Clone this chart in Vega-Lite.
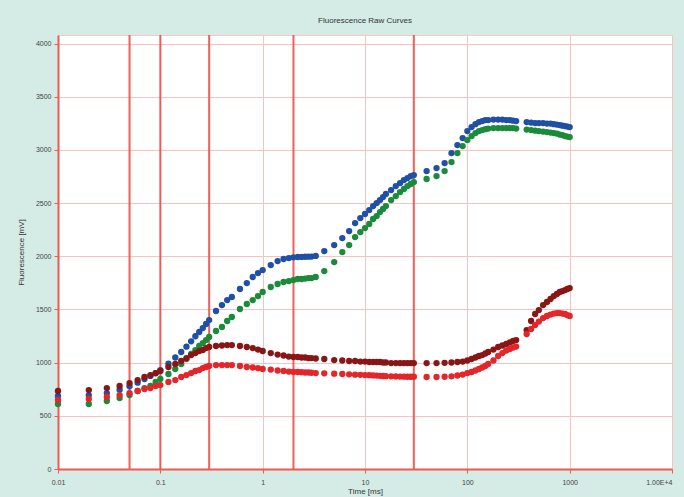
{
  "$schema": "https://vega.github.io/schema/vega-lite/v6.json",
  "width": 614,
  "height": 434,
  "autosize": "none",
  "padding": {"left": 58, "top": 35, "right": 12, "bottom": 28},
  "background": "#d5ebe6",
  "title": {"text": "Fluorescence Raw Curves", "fontSize": 8, "fontWeight": "normal", "color": "#333333", "offset": 9, "anchor": "middle", "font": "Liberation Sans"},
  "datasets": {
    "markers": [{"t": 0.05}, {"t": 0.1}, {"t": 0.3}, {"t": 2}, {"t": 30}],
    "curves": [
{"t":0.01,"s":"b","v":686},{"t":0.02,"s":"b","v":695},{"t":0.03,"s":"b","v":714},{"t":0.04,"s":"b","v":745},{"t":0.05,"s":"b","v":778},{"t":0.06,"s":"b","v":812},{"t":0.07,"s":"b","v":846},{"t":0.08,"s":"b","v":875},{"t":0.09,"s":"b","v":900},{"t":0.1,"s":"b","v":930},{"t":0.12,"s":"b","v":990},{"t":0.14,"s":"b","v":1048},{"t":0.16,"s":"b","v":1100},{"t":0.18,"s":"b","v":1150},{"t":0.2,"s":"b","v":1200},{"t":0.22,"s":"b","v":1248},{"t":0.24,"s":"b","v":1288},{"t":0.26,"s":"b","v":1325},{"t":0.28,"s":"b","v":1363},{"t":0.3,"s":"b","v":1400},
{"t":0.35,"s":"b","v":1485},{"t":0.4,"s":"b","v":1541},{"t":0.45,"s":"b","v":1588},{"t":0.5,"s":"b","v":1617},{"t":0.6,"s":"b","v":1692},{"t":0.7,"s":"b","v":1748},{"t":0.8,"s":"b","v":1805},{"t":0.9,"s":"b","v":1842},{"t":1,"s":"b","v":1870},{"t":1.2,"s":"b","v":1917},{"t":1.4,"s":"b","v":1955},{"t":1.6,"s":"b","v":1974},{"t":1.8,"s":"b","v":1983},{"t":2,"s":"b","v":1990},
{"t":2.2,"s":"b","v":1993},{"t":2.4,"s":"b","v":1994},{"t":2.6,"s":"b","v":1995},{"t":2.8,"s":"b","v":1996},{"t":3,"s":"b","v":1997},{"t":3.3,"s":"b","v":2003},{"t":4,"s":"b","v":2049},{"t":5,"s":"b","v":2105},{"t":6,"s":"b","v":2171},{"t":7,"s":"b","v":2237},{"t":8,"s":"b","v":2312},{"t":9,"s":"b","v":2359},{"t":10,"s":"b","v":2397},{"t":11,"s":"b","v":2434},{"t":12,"s":"b","v":2472},{"t":13,"s":"b","v":2500},{"t":14,"s":"b","v":2528},{"t":15,"s":"b","v":2556},{"t":16,"s":"b","v":2585},{"t":18,"s":"b","v":2622},{"t":20,"s":"b","v":2660},{"t":22,"s":"b","v":2688},{"t":24,"s":"b","v":2716},{"t":26,"s":"b","v":2735},{"t":28,"s":"b","v":2754},{"t":30,"s":"b","v":2763},
{"t":40,"s":"b","v":2801},{"t":50,"s":"b","v":2829},{"t":60,"s":"b","v":2876},{"t":70,"s":"b","v":2970},{"t":80,"s":"b","v":3045},{"t":90,"s":"b","v":3111},{"t":100,"s":"b","v":3177},{"t":110,"s":"b","v":3214},{"t":120,"s":"b","v":3242},{"t":130,"s":"b","v":3261},{"t":140,"s":"b","v":3271},{"t":150,"s":"b","v":3280},{"t":160,"s":"b","v":3280},{"t":180,"s":"b","v":3285},{"t":200,"s":"b","v":3285},{"t":220,"s":"b","v":3285},{"t":240,"s":"b","v":3280},{"t":260,"s":"b","v":3280},{"t":280,"s":"b","v":3275},{"t":300,"s":"b","v":3271},
{"t":380,"s":"b","v":3261},{"t":420,"s":"b","v":3257},{"t":460,"s":"b","v":3252},{"t":500,"s":"b","v":3252},{"t":550,"s":"b","v":3252},{"t":600,"s":"b","v":3247},{"t":650,"s":"b","v":3247},{"t":700,"s":"b","v":3242},{"t":750,"s":"b","v":3238},{"t":800,"s":"b","v":3233},{"t":850,"s":"b","v":3228},{"t":900,"s":"b","v":3224},{"t":950,"s":"b","v":3219},{"t":1000,"s":"b","v":3214},

{"t":0.01,"s":"g","v":611},{"t":0.02,"s":"g","v":611},{"t":0.03,"s":"g","v":639},{"t":0.04,"s":"g","v":667},{"t":0.05,"s":"g","v":695},{"t":0.06,"s":"g","v":733},{"t":0.07,"s":"g","v":761},{"t":0.08,"s":"g","v":780},{"t":0.09,"s":"g","v":818},{"t":0.1,"s":"g","v":846},{"t":0.12,"s":"g","v":893},{"t":0.14,"s":"g","v":940},{"t":0.16,"s":"g","v":987},{"t":0.18,"s":"g","v":1034},{"t":0.2,"s":"g","v":1081},{"t":0.22,"s":"g","v":1118},{"t":0.24,"s":"g","v":1156},{"t":0.26,"s":"g","v":1184},{"t":0.28,"s":"g","v":1212},{"t":0.3,"s":"g","v":1241},
{"t":0.35,"s":"g","v":1297},{"t":0.4,"s":"g","v":1335},{"t":0.45,"s":"g","v":1391},{"t":0.5,"s":"g","v":1429},{"t":0.6,"s":"g","v":1504},{"t":0.7,"s":"g","v":1551},{"t":0.8,"s":"g","v":1588},{"t":0.9,"s":"g","v":1626},{"t":1,"s":"g","v":1664},{"t":1.2,"s":"g","v":1711},{"t":1.4,"s":"g","v":1739},{"t":1.6,"s":"g","v":1758},{"t":1.8,"s":"g","v":1767},{"t":2,"s":"g","v":1776},
{"t":2.2,"s":"g","v":1786},{"t":2.4,"s":"g","v":1786},{"t":2.6,"s":"g","v":1790},{"t":2.8,"s":"g","v":1795},{"t":3,"s":"g","v":1795},{"t":3.3,"s":"g","v":1805},{"t":4,"s":"g","v":1861},{"t":5,"s":"g","v":1945},{"t":6,"s":"g","v":2039},{"t":7,"s":"g","v":2105},{"t":8,"s":"g","v":2180},{"t":9,"s":"g","v":2227},{"t":10,"s":"g","v":2265},{"t":11,"s":"g","v":2303},{"t":12,"s":"g","v":2350},{"t":13,"s":"g","v":2378},{"t":14,"s":"g","v":2415},{"t":15,"s":"g","v":2444},{"t":16,"s":"g","v":2472},{"t":18,"s":"g","v":2528},{"t":20,"s":"g","v":2566},{"t":22,"s":"g","v":2603},{"t":24,"s":"g","v":2632},{"t":26,"s":"g","v":2660},{"t":28,"s":"g","v":2679},{"t":30,"s":"g","v":2697},
{"t":40,"s":"g","v":2726},{"t":50,"s":"g","v":2754},{"t":60,"s":"g","v":2801},{"t":70,"s":"g","v":2885},{"t":80,"s":"g","v":2970},{"t":90,"s":"g","v":3036},{"t":100,"s":"g","v":3092},{"t":110,"s":"g","v":3130},{"t":120,"s":"g","v":3158},{"t":130,"s":"g","v":3177},{"t":140,"s":"g","v":3186},{"t":150,"s":"g","v":3195},{"t":160,"s":"g","v":3200},{"t":180,"s":"g","v":3205},{"t":200,"s":"g","v":3205},{"t":220,"s":"g","v":3205},{"t":240,"s":"g","v":3205},{"t":260,"s":"g","v":3205},{"t":280,"s":"g","v":3205},{"t":300,"s":"g","v":3200},
{"t":380,"s":"g","v":3191},{"t":420,"s":"g","v":3186},{"t":460,"s":"g","v":3181},{"t":500,"s":"g","v":3177},{"t":550,"s":"g","v":3172},{"t":600,"s":"g","v":3167},{"t":650,"s":"g","v":3163},{"t":700,"s":"g","v":3158},{"t":750,"s":"g","v":3153},{"t":800,"s":"g","v":3144},{"t":850,"s":"g","v":3139},{"t":900,"s":"g","v":3130},{"t":950,"s":"g","v":3125},{"t":1000,"s":"g","v":3120},

{"t":0.01,"s":"d","v":733},{"t":0.02,"s":"d","v":742},{"t":0.03,"s":"d","v":761},{"t":0.04,"s":"d","v":780},{"t":0.05,"s":"d","v":808},{"t":0.06,"s":"d","v":836},{"t":0.07,"s":"d","v":865},{"t":0.08,"s":"d","v":883},{"t":0.09,"s":"d","v":902},{"t":0.1,"s":"d","v":921},{"t":0.12,"s":"d","v":959},{"t":0.14,"s":"d","v":987},{"t":0.16,"s":"d","v":1015},{"t":0.18,"s":"d","v":1043},{"t":0.2,"s":"d","v":1071},{"t":0.22,"s":"d","v":1090},{"t":0.24,"s":"d","v":1109},{"t":0.26,"s":"d","v":1118},{"t":0.28,"s":"d","v":1137},{"t":0.3,"s":"d","v":1147},
{"t":0.35,"s":"d","v":1156},{"t":0.4,"s":"d","v":1161},{"t":0.45,"s":"d","v":1165},{"t":0.5,"s":"d","v":1165},{"t":0.6,"s":"d","v":1156},{"t":0.7,"s":"d","v":1147},{"t":0.8,"s":"d","v":1137},{"t":0.9,"s":"d","v":1123},{"t":1,"s":"d","v":1109},{"t":1.2,"s":"d","v":1090},{"t":1.4,"s":"d","v":1076},{"t":1.6,"s":"d","v":1067},{"t":1.8,"s":"d","v":1057},{"t":2,"s":"d","v":1053},
{"t":2.2,"s":"d","v":1053},{"t":2.4,"s":"d","v":1048},{"t":2.6,"s":"d","v":1048},{"t":2.8,"s":"d","v":1043},{"t":3,"s":"d","v":1043},{"t":3.3,"s":"d","v":1039},{"t":4,"s":"d","v":1034},{"t":5,"s":"d","v":1024},{"t":6,"s":"d","v":1020},{"t":7,"s":"d","v":1015},{"t":8,"s":"d","v":1015},{"t":9,"s":"d","v":1010},{"t":10,"s":"d","v":1010},{"t":11,"s":"d","v":1006},{"t":12,"s":"d","v":1006},{"t":13,"s":"d","v":1006},{"t":14,"s":"d","v":1006},{"t":15,"s":"d","v":1001},{"t":16,"s":"d","v":1001},{"t":18,"s":"d","v":996},{"t":20,"s":"d","v":996},{"t":22,"s":"d","v":996},{"t":24,"s":"d","v":996},{"t":26,"s":"d","v":996},{"t":28,"s":"d","v":996},{"t":30,"s":"d","v":996},
{"t":40,"s":"d","v":996},{"t":50,"s":"d","v":996},{"t":60,"s":"d","v":998},{"t":70,"s":"d","v":1001},{"t":80,"s":"d","v":1006},{"t":90,"s":"d","v":1010},{"t":100,"s":"d","v":1020},{"t":110,"s":"d","v":1034},{"t":120,"s":"d","v":1048},{"t":130,"s":"d","v":1062},{"t":140,"s":"d","v":1071},{"t":150,"s":"d","v":1086},{"t":160,"s":"d","v":1100},{"t":180,"s":"d","v":1123},{"t":200,"s":"d","v":1147},{"t":220,"s":"d","v":1161},{"t":240,"s":"d","v":1175},{"t":260,"s":"d","v":1189},{"t":280,"s":"d","v":1203},{"t":300,"s":"d","v":1212},
{"t":380,"s":"d","v":1306},{"t":420,"s":"d","v":1391},{"t":460,"s":"d","v":1457},{"t":500,"s":"d","v":1494},{"t":550,"s":"d","v":1541},{"t":600,"s":"d","v":1570},{"t":650,"s":"d","v":1598},{"t":700,"s":"d","v":1626},{"t":750,"s":"d","v":1645},{"t":800,"s":"d","v":1664},{"t":850,"s":"d","v":1673},{"t":900,"s":"d","v":1682},{"t":950,"s":"d","v":1692},{"t":1000,"s":"d","v":1701},

{"t":0.01,"s":"r","v":649},{"t":0.02,"s":"r","v":658},{"t":0.03,"s":"r","v":677},{"t":0.04,"s":"r","v":695},{"t":0.05,"s":"r","v":714},{"t":0.06,"s":"r","v":733},{"t":0.07,"s":"r","v":752},{"t":0.08,"s":"r","v":761},{"t":0.09,"s":"r","v":780},{"t":0.1,"s":"r","v":789},{"t":0.12,"s":"r","v":818},{"t":0.14,"s":"r","v":836},{"t":0.16,"s":"r","v":865},{"t":0.18,"s":"r","v":883},{"t":0.2,"s":"r","v":902},{"t":0.22,"s":"r","v":921},{"t":0.24,"s":"r","v":930},{"t":0.26,"s":"r","v":949},{"t":0.28,"s":"r","v":959},{"t":0.3,"s":"r","v":968},
{"t":0.35,"s":"r","v":977},{"t":0.4,"s":"r","v":977},{"t":0.45,"s":"r","v":977},{"t":0.5,"s":"r","v":977},{"t":0.6,"s":"r","v":968},{"t":0.7,"s":"r","v":959},{"t":0.8,"s":"r","v":954},{"t":0.9,"s":"r","v":949},{"t":1,"s":"r","v":940},{"t":1.2,"s":"r","v":935},{"t":1.4,"s":"r","v":926},{"t":1.6,"s":"r","v":921},{"t":1.8,"s":"r","v":916},{"t":2,"s":"r","v":912},
{"t":2.2,"s":"r","v":912},{"t":2.4,"s":"r","v":910},{"t":2.6,"s":"r","v":907},{"t":2.8,"s":"r","v":907},{"t":3,"s":"r","v":905},{"t":3.3,"s":"r","v":902},{"t":4,"s":"r","v":899},{"t":5,"s":"r","v":896},{"t":6,"s":"r","v":893},{"t":7,"s":"r","v":890},{"t":8,"s":"r","v":887},{"t":9,"s":"r","v":885},{"t":10,"s":"r","v":883},{"t":11,"s":"r","v":882},{"t":12,"s":"r","v":880},{"t":13,"s":"r","v":878},{"t":14,"s":"r","v":876},{"t":15,"s":"r","v":874},{"t":16,"s":"r","v":873},{"t":18,"s":"r","v":871},{"t":20,"s":"r","v":870},{"t":22,"s":"r","v":869},{"t":24,"s":"r","v":868},{"t":26,"s":"r","v":867},{"t":28,"s":"r","v":867},{"t":30,"s":"r","v":867},
{"t":40,"s":"r","v":865},{"t":50,"s":"r","v":865},{"t":60,"s":"r","v":867},{"t":70,"s":"r","v":871},{"t":80,"s":"r","v":879},{"t":90,"s":"r","v":888},{"t":100,"s":"r","v":902},{"t":110,"s":"r","v":912},{"t":120,"s":"r","v":926},{"t":130,"s":"r","v":940},{"t":140,"s":"r","v":954},{"t":150,"s":"r","v":968},{"t":160,"s":"r","v":987},{"t":180,"s":"r","v":1020},{"t":200,"s":"r","v":1062},{"t":220,"s":"r","v":1090},{"t":240,"s":"r","v":1114},{"t":260,"s":"r","v":1128},{"t":280,"s":"r","v":1142},{"t":300,"s":"r","v":1151},
{"t":380,"s":"r","v":1269},{"t":420,"s":"r","v":1316},{"t":460,"s":"r","v":1353},{"t":500,"s":"r","v":1386},{"t":550,"s":"r","v":1419},{"t":600,"s":"r","v":1438},{"t":650,"s":"r","v":1452},{"t":700,"s":"r","v":1461},{"t":750,"s":"r","v":1466},{"t":800,"s":"r","v":1466},{"t":850,"s":"r","v":1461},{"t":900,"s":"r","v":1457},{"t":950,"s":"r","v":1447},{"t":1000,"s":"r","v":1438}
    ]
  },
  "layer": [
    {
      "data": {"name": "markers"},
      "mark": {"type": "rule", "color": "#ea5048", "strokeWidth": 2, "opacity": 0.9},
      "encoding": {
        "x": {"field": "t", "type": "quantitative", "scale": {"type": "log", "domain": [0.01, 10000]}}
      }
    },
    {
      "data": {"name": "curves"},
      "mark": {"type": "circle", "size": 40, "opacity": 1},
      "encoding": {
        "x": {
          "field": "t", "type": "quantitative",
          "scale": {"type": "log", "domain": [0.01, 10000]},
          "axis": {
            "title": "Time [ms]",
            "values": [0.01, 0.1, 1, 10, 100, 1000, 10000],
            "labelExpr": "datum.value == 10000 ? '1.00E+4' : datum.value == 0.01 ? '0.01' : datum.value == 0.1 ? '0.1' : format(datum.value, 'd')",
            "labelAlign": {"condition": {"test": "datum.value == 10000", "value": "right"}, "value": "center"}
          }
        },
        "y": {
          "field": "v", "type": "quantitative",
          "scale": {"domain": [0, 4080], "nice": false},
          "axis": {"title": "Fluorescence [mV]", "format": "d", "values": [0, 500, 1000, 1500, 2000, 2500, 3000, 3500, 4000]}
        },
        "color": {
          "field": "s", "type": "nominal", "legend": null,
          "scale": {"domain": ["b", "g", "d", "r"], "range": ["#1f4fa6", "#1b8a3a", "#8a1515", "#e2262a"]}
        }
      }
    }
  ],
  "config": {
    "font": "Liberation Sans",
    "view": {"fill": "#ffffff", "stroke": "#f7caca", "strokeWidth": 1},
    "axis": {
      "grid": true,
      "gridColor": "#f8c2c2",
      "gridWidth": 1,
      "domainColor": "#ee5a50",
      "domainWidth": 2,
      "tickColor": "#ee5a50",
      "tickSize": 4,
      "labelFontSize": 7,
      "labelColor": "#444444",
      "titleFontSize": 8,
      "titleFontWeight": "normal",
      "titleColor": "#333333"
    },
    "axisX": {"labelPadding": 5, "titlePadding": 2, "labelFlush": false},
    "axisY": {"labelPadding": 3, "titlePadding": 10}
  }
}
